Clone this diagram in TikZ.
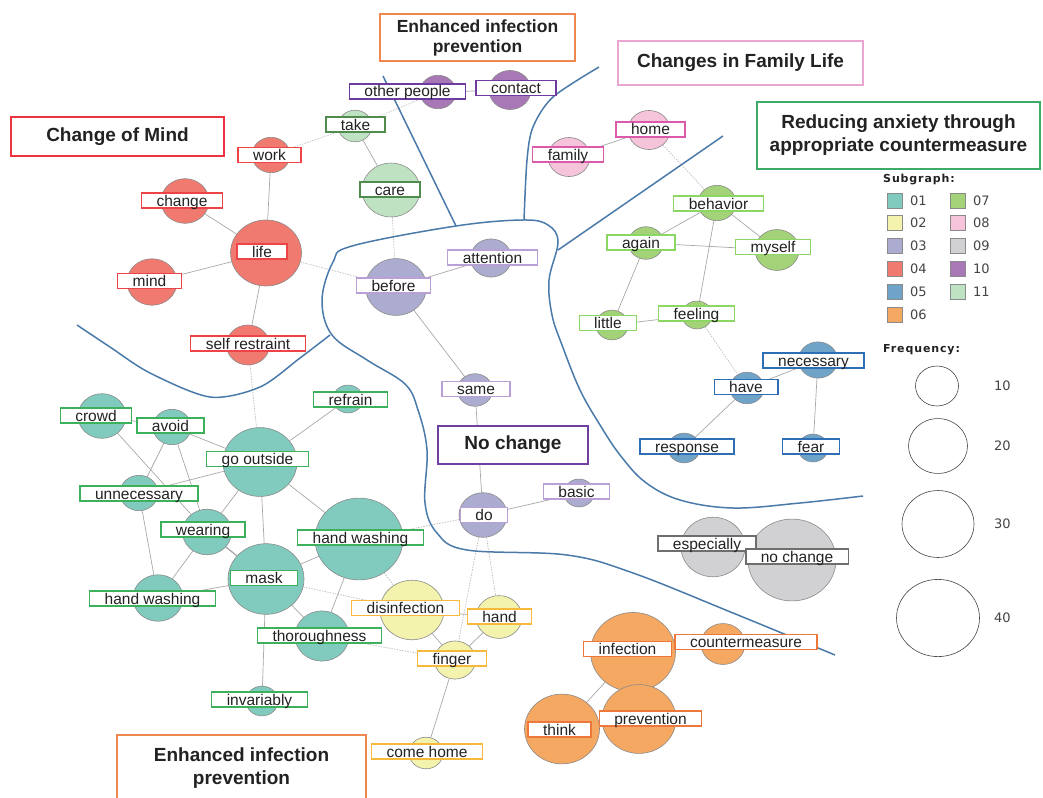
\documentclass[tikz,border=0pt]{standalone}
\usepackage{fontspec}
\setmainfont{Liberation Sans}
\newfontfamily\legfont{DejaVu Sans}
\newfontfamily\legfontsp[LetterSpace=8]{DejaVu Sans}
\usetikzlibrary{shapes.geometric,backgrounds}

% subgraph fills
\definecolor{g01}{HTML}{80CBBE}
\definecolor{g02}{HTML}{F3F3AE}
\definecolor{g03}{HTML}{ACACD0}
\definecolor{g04}{HTML}{F07A70}
\definecolor{g05}{HTML}{70A3C8}
\definecolor{g06}{HTML}{F5A862}
\definecolor{g07}{HTML}{A3D278}
\definecolor{g08}{HTML}{F5C4DA}
\definecolor{g09}{HTML}{D1D1D3}
\definecolor{g10}{HTML}{A878B6}
\definecolor{g11}{HTML}{BEE2C2}
% label frames
\definecolor{e01}{HTML}{3CB05A}
\definecolor{e02}{HTML}{F7B93C}
\definecolor{e03}{HTML}{B9A0D7}
\definecolor{e04}{HTML}{EE4448}
\definecolor{e05}{HTML}{2D6EB4}
\definecolor{e06}{HTML}{EE783C}
\definecolor{e07}{HTML}{8CD664}
\definecolor{e08}{HTML}{DC5AAA}
\definecolor{e09}{HTML}{6E6E6E}
\definecolor{e10}{HTML}{6E3CA0}
\definecolor{e11}{HTML}{508C4B}
% titles and the rest
\definecolor{torange}{HTML}{EE8850}
\definecolor{tpink}{HTML}{E8A6D0}
\definecolor{tgreen}{HTML}{3DAA66}
\definecolor{tred}{HTML}{EE3340}
\definecolor{tpurple}{HTML}{7040A0}
\definecolor{zonec}{HTML}{4A7AAA}
\definecolor{bubline}{HTML}{8A8A8A}
\definecolor{edge}{HTML}{A8A8A8}
\definecolor{edgelt}{HTML}{BDBDBD}
\definecolor{txt}{HTML}{222222}
\definecolor{legtxt}{HTML}{444444}

\tikzset{
  bub/.style={ellipse, draw=bubline, line width=0.6pt, inner sep=0pt,
    minimum width=#1, minimum height=0.93*#1},
  lab/.style={draw=#1, line width=1.4pt, fill=white, text=txt,
    font=\fontsize{15.5}{16}\selectfont, inner xsep=15pt, inner ysep=1pt,
    text height=12pt, text depth=1pt},
  ttl/.style={draw=#1, line width=1.6pt, fill=white, text=txt,
    font=\bfseries\fontsize{19}{23}\selectfont, align=center, inner sep=0pt},
  link/.style={draw=edge, line width=0.7pt},
  weak/.style={draw=edgelt, line width=0.7pt, dash pattern=on 1.5pt off 1.2pt},
  zone/.style={draw=zonec, line width=1.5pt},
  sq/.style={draw=bubline, line width=0.6pt, minimum size=15pt, inner sep=0pt, fill=#1},
  legnum/.style={anchor=west, inner sep=0pt, text=legtxt, font=\legfont\fontsize{13}{13}\selectfont},
}

\begin{document}
\begin{tikzpicture}[x=1pt,y=-1pt]

   \useasboundingbox (0,0) rectangle (1043,797);

   % bubbles
   \node (work) at (271,155) [bub=38, fill=g04] {} ;
   \node (change) at (185,201) [bub=48, fill=g04] {} ;
   \node (life) at (266,253) [bub=71, fill=g04] {} ;
   \node (mind) at (152,282) [bub=50, fill=g04] {} ;
   \node (selfres) at (248,345) [bub=43, fill=g04] {} ;

   \node (take) at (355,126) [bub=34, fill=g11] {} ;
   \node (care) at (391,190) [bub=58, fill=g11] {} ;

   \node (others) at (438,92) [bub=36, fill=g10] {} ;
   \node (contact) at (510,90) [bub=42, fill=g10] {} ;

   \node (before) at (396,287) [bub=61, fill=g03] {} ;
   \node (attention) at (491,258) [bub=41, fill=g03] {} ;
   \node (same) at (475,390) [bub=35, fill=g03] {} ;
   \node (do) at (483,515) [bub=48, fill=g03] {} ;
   \node (basic) at (579,493) [bub=30, fill=g03] {} ;

   \node (home) at (649,130) [bub=42, fill=g08] {} ;
   \node (family) at (569,157) [bub=42, fill=g08] {} ;

   \node (behavior) at (717,203) [bub=38, fill=g07] {} ;
   \node (again) at (646,243) [bub=35, fill=g07] {} ;
   \node (myself) at (777,250) [bub=44, fill=g07] {} ;
   \node (little) at (612,325) [bub=32, fill=g07] {} ;
   \node (feeling) at (697,315) [bub=30, fill=g07] {} ;

   \node (necessary) at (818,360) [bub=39, fill=g05] {} ;
   \node (have) at (747,388) [bub=34, fill=g05] {} ;
   \node (response) at (684,448) [bub=32, fill=g05] {} ;
   \node (fear) at (813,448) [bub=30, fill=g05] {} ;

   \node (especially) at (713,547) [bub=64, fill=g09] {} ;
   \node (nochange) at (792,560) [bub=88, fill=g09] {} ;

   \node (infection) at (633,652) [bub=85, fill=g06] {} ;
   \node (counter) at (723,644) [bub=44, fill=g06] {} ;
   \node (think) at (562,729) [bub=75, fill=g06] {} ;
   \node (prevention) at (639,719) [bub=74, fill=g06] {} ;

   \node (crowd) at (102,416) [bub=48, fill=g01] {} ;
   \node (avoid) at (172,427) [bub=38, fill=g01] {} ;
   \node (outside) at (260,462) [bub=74, fill=g01] {} ;
   \node (refrain) at (348,399) [bub=30, fill=g01] {} ;
   \node (unnec) at (139,493) [bub=38, fill=g01] {} ;
   \node (wearing) at (207,532) [bub=49, fill=g01] {} ;
   \node (washA) at (359,539) [bub=88, fill=g01] {} ;
   \node (mask) at (266,579) [bub=76, fill=g01] {} ;
   \node (washB) at (158,598) [bub=50, fill=g01] {} ;
   \node (thorough) at (322,636) [bub=54, fill=g01] {} ;
   \node (invariably) at (262,701) [bub=32, fill=g01] {} ;

   \node (disinf) at (412,610) [bub=64, fill=g02] {} ;
   \node (hand) at (499,617) [bub=46, fill=g02] {} ;
   \node (finger) at (455,660) [bub=41, fill=g02] {} ;
   \node (comehome) at (426,753) [bub=34, fill=g02] {} ;

   % links
   \begin{scope}[on background layer]
   \draw [link] (work) -- (life);
   \draw [link] (change) -- (life);
   \draw [link] (mind) -- (life);
   \draw [link] (life) -- (selfres);
   \draw [weak] (life) -- (before);
   \draw [weak] (work) -- (take);
   \draw [weak] (selfres) -- (outside);

   \draw [link] (take) -- (care);
   \draw [weak] (take) -- (others);
   \draw [weak] (care) -- (before);
   \draw [link] (others) -- (contact);

   \draw [link] (before) -- (attention);
   \draw [link] (before) -- (same);
   \draw [link] (same) -- (do);
   \draw [link] (do) -- (basic);
   \draw [weak] (do) -- (washA);
   \draw [weak] (do) -- (finger);
   \draw [weak] (do) -- (hand);

   \draw [link] (family) -- (home);
   \draw [weak] (home) -- (behavior);
   \draw [link] (behavior) -- (again);
   \draw [link] (behavior) -- (myself);
   \draw [link] (again) -- (myself);
   \draw [link] (behavior) -- (feeling);
   \draw [link] (again) -- (little);
   \draw [link] (little) -- (feeling);
   \draw [weak] (feeling) -- (have);

   \draw [link] (have) -- (necessary);
   \draw [link] (have) -- (response);
   \draw [link] (necessary) -- (fear);

   \draw [link] (infection) -- (think);

   \draw [link] (crowd) -- (avoid);
   \draw [link] (crowd) -- (wearing);
   \draw [link] (avoid) -- (outside);
   \draw [link] (avoid) -- (unnec);
   \draw [link] (avoid) -- (wearing);
   \draw [link] (unnec) -- (outside);
   \draw [link] (unnec) -- (washB);
   \draw [link] (wearing) -- (outside);
   \draw [link, line width=1.3pt] (wearing) -- (mask);
   \draw [link] (wearing) -- (washB);
   \draw [link] (washB) -- (mask);
   \draw [link] (outside) -- (mask);
   \draw [link] (outside) -- (refrain);
   \draw [link] (outside) -- (washA);
   \draw [link] (mask) -- (washA);
   \draw [link] (mask) -- (thorough);
   \draw [link] (washA) -- (thorough);
   \draw [link] (mask) -- (invariably);
   \draw [weak] (mask) -- (disinf);
   \draw [weak] (thorough) -- (finger);
   \draw [weak] (washA) -- (disinf);

   \draw [link] (disinf) -- (hand);
   \draw [link] (disinf) -- (finger);
   \draw [link] (hand) -- (finger);
   \draw [link] (finger) -- (comehome);
   \end{scope}

   % zone borders
   \draw [zone] plot [smooth, tension=0.6] coordinates {(835,655) (733,613) (633,573)
      (567,555) (467,550) (437,533) (425,503) (427,450) (418,410) (405,384) (367,360)
      (332,335) (322,300) (333,262) (352,246) (456,226) (523,220) (548,225) (558,242)
      (549,280) (552,315) (562,345) (580,390) (600,425) (620,455) (645,482) (680,500)
      (733,508) (800,503) (863,496)};
   \draw [zone] plot [smooth] coordinates {(77,325) (110,347) (150,373) (210,397)
      (260,387) (300,358) (330,335)};
   \draw [zone] (383,76) -- (456,226);
   \draw [zone] plot [smooth] coordinates {(599,67) (553,97) (533,127) (527,160) (524,220)};
   \draw [zone] (723,136) -- (558,250);

   % labels
   \node (work-l) at (269.5,155) [lab=e04] {work} ;
   \node (change-l) at (182,200.5) [lab=e04] {change} ;
   \node (life-l) at (262,251.5) [lab=e04] {life} ;
   \node (mind-l) at (149.5,281) [lab=e04] {mind} ;
   \node (selfres-l) at (248,343.5) [lab=e04] {self restraint} ;

   \node (take-l) at (355.5,124.5) [lab=e11] {take} ;
   \node (care-l) at (390,189.5) [lab=e11] {care} ;

   \node (others-l) at (407.5,91.5) [lab=e10] {other people} ;
   \node (contact-l) at (516,88) [lab=e10] {contact} ;

   \node (before-l) at (393.5,285.5) [lab=e03] {before} ;
   \node (attention-l) at (492.5,257.5) [lab=e03] {attention} ;
   \node (same-l) at (476,389) [lab=e03] {same} ;
   \node (do-l) at (484,515) [lab=e03] {do} ;
   \node (basic-l) at (576.5,491.5) [lab=e03] {basic} ;

   \node (home-l) at (650.5,129.5) [lab=e08] {home} ;
   \node (family-l) at (568,154.5) [lab=e08] {family} ;

   \node (behavior-l) at (718.5,203.5) [lab=e07] {behavior} ;
   \node (again-l) at (641,242.5) [lab=e07] {again} ;
   \node (myself-l) at (773,247) [lab=e07] {myself} ;
   \node (little-l) at (608,323) [lab=e07] {little} ;
   \node (feeling-l) at (696.5,313.5) [lab=e07] {feeling} ;

   \node (necessary-l) at (813.5,360.5) [lab=e05] {necessary} ;
   \node (have-l) at (746,387) [lab=e05] {have} ;
   \node (response-l) at (687,446.5) [lab=e05] {response} ;
   \node (fear-l) at (811,446.5) [lab=e05] {fear} ;

   \node (especially-l) at (707,543.5) [lab=e09] {especially} ;
   \node (nochange-l) at (797,556.5) [lab=e09] {no change} ;

   \node (infection-l) at (627.5,649) [lab=e06] {infection} ;
   \node (counter-l) at (746,642) [lab=e06] {countermeasure} ;
   \node (think-l) at (559.5,729.5) [lab=e06] {think} ;
   \node (prevention-l) at (650.5,718.5) [lab=e06] {prevention} ;

   \node (crowd-l) at (96,415.5) [lab=e01] {crowd} ;
   \node (avoid-l) at (170.5,425.5) [lab=e01] {avoid} ;
   \node (outside-l) at (257.5,459) [lab=e01] {go outside} ;
   \node (refrain-l) at (350.5,399.5) [lab=e01] {refrain} ;
   \node (unnec-l) at (139,493.5) [lab=e01] {unnecessary} ;
   \node (wearing-l) at (203,529.5) [lab=e01] {wearing} ;
   \node (washA-l) at (360.5,537.5) [lab=e01] {hand washing} ;
   \node (mask-l) at (264,578) [lab=e01] {mask} ;
   \node (washB-l) at (152.5,598.5) [lab=e01] {hand washing} ;
   \node (thorough-l) at (319.5,635.5) [lab=e01] {thoroughness} ;
   \node (invariably-l) at (259.5,699.5) [lab=e01] {invariably} ;

   \node (disinf-l) at (405.5,608) [lab=e02] {disinfection} ;
   \node (hand-l) at (499.5,616.5) [lab=e02] {hand} ;
   \node (finger-l) at (452,658.5) [lab=e02] {finger} ;
   \node (comehome-l) at (427,751.5) [lab=e02] {come home} ;

   % titles
   \node (t-infect) at (477.5,37.5) [ttl=torange, minimum width=195, minimum height=47,
      font=\bfseries\fontsize{17.5}{20}\selectfont] {Enhanced infection\\prevention} ;
   \node (t-family) at (740.5,63) [ttl=tpink, minimum width=245, minimum height=44] {Changes in Family Life} ;
   \node (t-anxiety) at (898.5,135.5) [ttl=tgreen, minimum width=283, minimum height=67]
      {Reducing anxiety through\\appropriate countermeasure} ;
   \node (t-mind) at (117.5,136.5) [ttl=tred, minimum width=213, minimum height=39] {Change of Mind} ;
   \node (t-none) at (513,445) [ttl=tpurple, minimum width=150, minimum height=38] {No change} ;
   \node (t-infect2) at (241.5,768) [ttl=torange, minimum width=249, minimum height=66]
      {Enhanced infection\\prevention} ;

   % legend
   \node (k-sub) at (883,180) [anchor=west, inner sep=0pt, text=txt,
      font=\legfontsp\bfseries\fontsize{11}{11}\selectfont] {Subgraph:} ;
   \node (k01) at (895,201) [sq=g01] {} ;
   \node (k02) at (895,223) [sq=g02] {} ;
   \node (k03) at (895,246) [sq=g03] {} ;
   \node (k04) at (895,269) [sq=g04] {} ;
   \node (k05) at (895,292) [sq=g05] {} ;
   \node (k06) at (895,315) [sq=g06] {} ;
   \node (k07) at (958,201) [sq=g07] {} ;
   \node (k08) at (958,223) [sq=g08] {} ;
   \node (k09) at (958,246) [sq=g09] {} ;
   \node (k10) at (958,269) [sq=g10] {} ;
   \node (k11) at (958,292) [sq=g11] {} ;
   \node (k01-t) at (910,201) [legnum] {01} ;
   \node (k02-t) at (910,223) [legnum] {02} ;
   \node (k03-t) at (910,246) [legnum] {03} ;
   \node (k04-t) at (910,269) [legnum] {04} ;
   \node (k05-t) at (910,292) [legnum] {05} ;
   \node (k06-t) at (910,315) [legnum] {06} ;
   \node (k07-t) at (973,201) [legnum] {07} ;
   \node (k08-t) at (973,223) [legnum] {08} ;
   \node (k09-t) at (973,246) [legnum] {09} ;
   \node (k10-t) at (973,269) [legnum] {10} ;
   \node (k11-t) at (973,292) [legnum] {11} ;

   \node (k-freq) at (883,350) [anchor=west, inner sep=0pt, text=txt,
      font=\legfontsp\bfseries\fontsize{11}{11}\selectfont] {Frequency:} ;
   \node (f10) at (937,386) [bub=43, draw=legtxt] {} ;
   \node (f20) at (938,446) [bub=59, draw=legtxt] {} ;
   \node (f30) at (938,524) [bub=72, draw=legtxt] {} ;
   \node (f40) at (938,618) [bub=83, draw=legtxt] {} ;
   \node (f10-t) at (994,386) [legnum] {10} ;
   \node (f20-t) at (994,446) [legnum] {20} ;
   \node (f30-t) at (994,524) [legnum] {30} ;
   \node (f40-t) at (994,618) [legnum] {40} ;

\end{tikzpicture}
\end{document}
